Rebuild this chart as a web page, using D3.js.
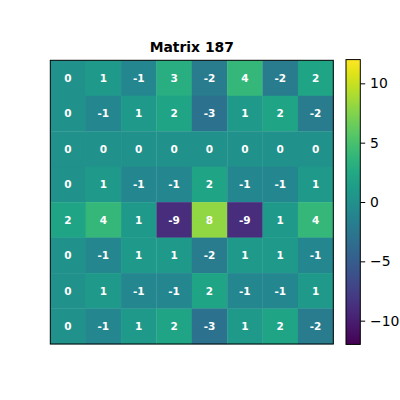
<!DOCTYPE html>
<html><head><meta charset="utf-8">
<script src="https://cdn.jsdelivr.net/npm/d3@7"></script>
<style>body{margin:0;background:#fff}svg{display:block}text{font-family:"DejaVu Sans",sans-serif}</style>
</head><body>
<script>
const title = "Matrix 187";
const rowsIdx = [0,1,2,3,4,5,6,7];
const colsIdx = [0,1,2,3,4,5,6,7];
const row0 = [0, 1, -1, 3, -2, 4, -2, 2];
const row1 = [0, -1, 1, 2, -3, 1, 2, -2];
const row2 = [0, 0, 0, 0, 0, 0, 0, 0];
const row3 = [0, 1, -1, -1, 2, -1, -1, 1];
const row4 = [2, 4, 1, -9, 8, -9, 1, 4];
const row5 = [0, -1, 1, 1, -2, 1, 1, -1];
const row6 = [0, 1, -1, -1, 2, -1, -1, 1];
const row7 = [0, -1, 1, 2, -3, 1, 2, -2];
const matrix = [row0,row1,row2,row3,row4,row5,row6,row7];
const colorDomain = [-12, 12];
const cbTicks = [-10, -5, 0, 5, 10];

const W=400,H=400;
const svg=d3.select("body").append("svg").attr("width",W).attr("height",H);
const L=50.3,R=333.3,T=60.3,B=344;
const x=d3.scaleBand().domain(colsIdx).range([L,R]).padding(0);
const y=d3.scaleBand().domain(rowsIdx).range([T,B]).padding(0);
const color=d3.scaleSequential(d3.interpolateViridis).domain(colorDomain);

const cells=[];
matrix.forEach((r,i)=>r.forEach((v,j)=>cells.push({i,j,v})));
svg.append("g").selectAll("rect").data(cells).join("rect")
  .attr("x",d=>x(d.j)).attr("y",d=>y(d.i))
  .attr("width",x.bandwidth()+0.3).attr("height",y.bandwidth()+0.3)
  .attr("fill",d=>color(d.v));
svg.append("g").selectAll("text").data(cells).join("text")
  .attr("x",d=>x(d.j)+x.bandwidth()/2).attr("y",d=>y(d.i)+y.bandwidth()/2)
  .attr("text-anchor","middle").attr("dominant-baseline","central")
  .attr("fill","#fff").attr("font-weight","bold").attr("font-size","10.5px")
  .text(d=>d.v);
svg.append("rect").attr("x",L).attr("y",T).attr("width",R-L).attr("height",B-T)
  .attr("fill","none").attr("stroke","#000").attr("stroke-width",1);

svg.append("text").attr("x",(L+R)/2).attr("y",51.7).attr("text-anchor","middle")
  .attr("font-weight","bold").attr("font-size","13.9px").text(title);

// colorbar
const cbL=346,cbR=360.3,cbT=59.6,cbB=344.4;
const cy=d3.scaleLinear().domain(colorDomain).range([cbB,cbT]);
const defs=svg.append("defs");
const grad=defs.append("linearGradient").attr("id","cb").attr("x1",0).attr("y1",1).attr("x2",0).attr("y2",0);
d3.range(0,1.0001,0.05).forEach(t=>grad.append("stop").attr("offset",t).attr("stop-color",d3.interpolateViridis(t)));
svg.append("rect").attr("x",cbL).attr("y",cbT).attr("width",cbR-cbL).attr("height",cbB-cbT)
  .attr("fill","url(#cb)").attr("stroke","#000").attr("stroke-width",1);
const ax=svg.append("g").attr("transform",`translate(${cbR},0)`)
  .call(d3.axisRight(cy).tickValues(cbTicks).tickSize(4.9).tickPadding(4.9).tickFormat(d=>d<0?"\u2212"+Math.abs(d):d));
ax.select(".domain").remove();
ax.selectAll("text").attr("font-size","13.9px").attr("font-family","DejaVu Sans").attr("fill","#000");
ax.selectAll("line").attr("stroke","#000");
</script>
</body></html>
